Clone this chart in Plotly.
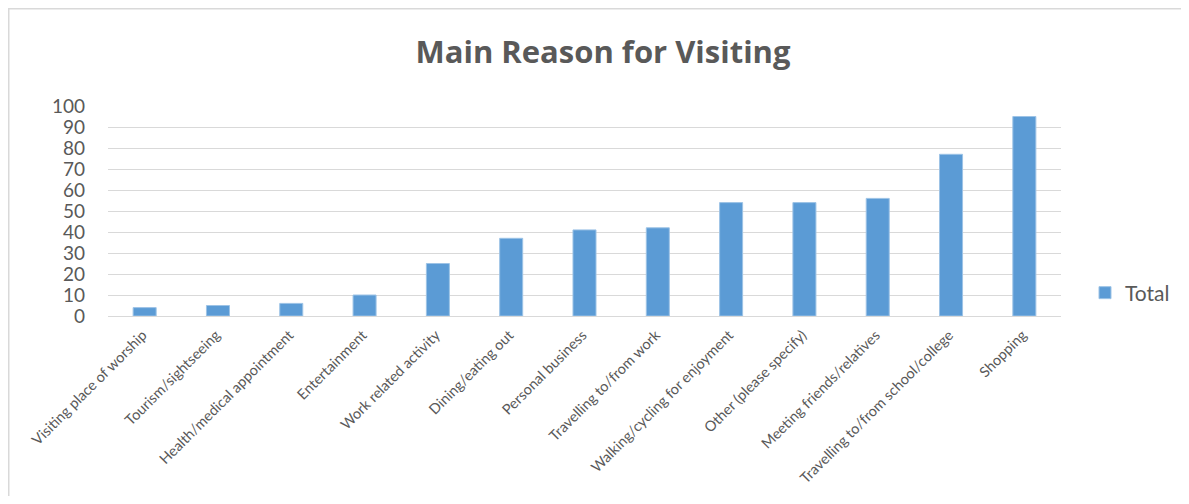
import plotly.graph_objects as go

categories = [
    "Visiting place of worship", "Tourism/sightseeing", "Health/medical appointment",
    "Entertainment", "Work related activity", "Dining/eating out", "Personal business",
    "Travelling to/from work", "Walking/cycling for enjoyment", "Other (please specify)",
    "Meeting friends/relatives", "Travelling to/from school/college", "Shopping",
]
totals = [4, 5, 6, 10, 25, 37, 41, 42, 54, 54, 56, 77, 95]
y_ticks = list(range(0, 101, 10))

OFF = 8  # page body margin
W, H = 1189 - 2 * OFF, 504 - 2 * OFF
L, T = 108 - OFF, 106 - OFF
R = W - (1061 - OFF)
B = H - (316 - OFF)
pw = W - L - R
ph = H - T - B

def px(xp):
    return (xp - OFF - L) / pw

def py(yp):
    return (H - B - (yp - OFF)) / ph

fig = go.Figure()
fig.add_trace(go.Bar(
    x=categories, y=totals, name="Total",
    marker=dict(color="#5b9bd5", line=dict(color="#9dc3e6", width=1)),
    showlegend=True,
))

fig.update_layout(
    width=W, height=H,
    margin=dict(l=L, r=R, t=T, b=B, autoexpand=False),
    paper_bgcolor="white", plot_bgcolor="white",
    bargap=0.686,
    title=dict(text="<b>Main Reason for Visiting</b>", x=px(603), xref="paper",
               xanchor="center", y=1 - (52 - OFF) / H, yanchor="middle",
               font=dict(family="Open Sans", size=31, color="#595959")),
    legend=dict(x=px(1085), y=py(293), xanchor="left", yanchor="middle",
                font=dict(family="Lato", size=21, color="#595959"),
                bgcolor="rgba(0,0,0,0)", itemwidth=30),
    xaxis=dict(tickangle=-45, tickfont=dict(family="Lato", size=14.5, color="#595959"),
               showline=True, linecolor="#d9d9d9", linewidth=1, ticks="",
               showgrid=False, ticklabelshift=-2, ticklabelstandoff=4, automargin=False),
    yaxis=dict(range=[0, 100], tickvals=y_ticks, tickfont=dict(family="Lato", size=19, color="#595959"),
               showgrid=True, gridcolor="#d9d9d9", gridwidth=1, zeroline=False,
               showline=False, ticks="", ticklabelstandoff=22, automargin=False),
    shapes=[dict(type="rect", xref="paper", yref="paper",
                 x0=px(OFF + 0.75), x1=px(1200),
                 y0=py(520), y1=py(OFF + 0.75),
                 line=dict(color="#d9d9d9", width=1.5), fillcolor="rgba(0,0,0,0)", layer="below")],
)

fig.write_html("out.html")
